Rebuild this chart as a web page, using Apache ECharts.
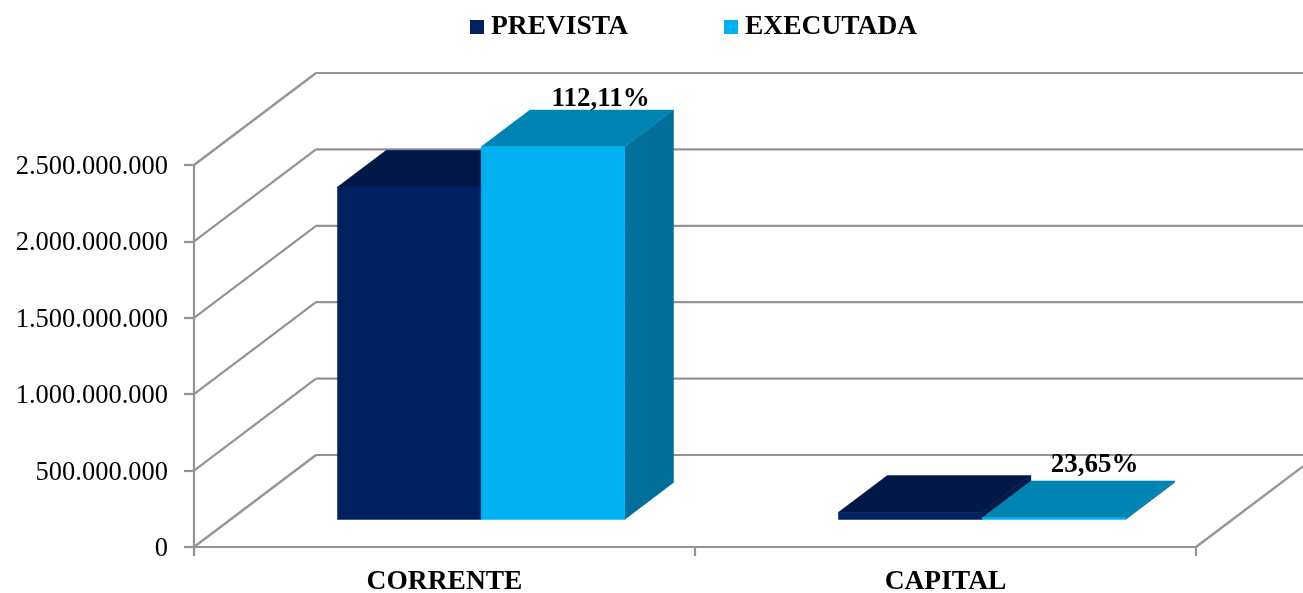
<!DOCTYPE html>
<html>
<head>
<meta charset="utf-8">
<style>html,body{margin:0;padding:0;background:#fff}#c{width:1303px;height:593px}</style>
<script src="https://cdn.jsdelivr.net/npm/echarts@6/dist/echarts.min.js"></script>
</head>
<body>
<div id="c"></div>
<script>
const categories = ['CORRENTE', 'CAPITAL'];
const prevista = [2175000000, 46000000];
const executada = [2438000000, 10900000];
const percentLabels = ['112,11%', '23,65%'];
const yTicks = [0, 500000000, 1000000000, 1500000000, 2000000000, 2500000000];

const FONT = '"Liberation Serif", serif';
const GREY = '#939393';
const DX = 122, DY = 92;            // projected depth of the floor
const NEAR = 0.3, FAR = 0.7;        // bar depth as share of the floor
const BAR = 0.2867;                 // bar width as share of the category band
const LABEL_SHIFT = [[-1, -11], [-8, -16]];

const fmt = v => String(v).replace(/\B(?=(\d{3})+(?!\d))/g, '.');

function poly(points, fill) {
  return { type: 'polygon', silent: true, shape: { points }, style: { fill, stroke: fill, lineWidth: 0.5 } };
}

function barRenderer(offsetIndex, front, top, side, withLabel) {
  return function (params, api) {
    const i = api.value(0), v = api.value(1);
    const band = api.size([1, 0])[0];
    const c = api.coord([i, v]), b = api.coord([i, 0]);
    const w = band * BAR;
    const x0 = c[0] + DX * NEAR + (offsetIndex - 1) * w;
    const x1 = x0 + w;
    const yT = c[1] - DY * NEAR, yB = b[1] - DY * NEAR;
    const dx = DX * (FAR - NEAR), dy = DY * (FAR - NEAR);
    const children = [
      poly([[x1, yT], [x1 + dx, yT - dy], [x1 + dx, yB - dy], [x1, yB]], side),
      poly([[x0, yT], [x0 + dx, yT - dy], [x1 + dx, yT - dy], [x1, yT]], top),
      poly([[x0, yT], [x1, yT], [x1, yB], [x0, yB]], front)
    ];
    if (withLabel) {
      children.push({
        type: 'text', silent: true, z2: 10,
        style: {
          text: percentLabels[i],
          x: (x0 + x1) / 2 + dx + LABEL_SHIFT[i][0],
          y: yT - dy + LABEL_SHIFT[i][1],
          align: 'center', verticalAlign: 'middle',
          font: 'bold 27px ' + FONT, fill: '#000'
        }
      });
    }
    return { type: 'group', children };
  };
}

function wallRenderer(params, api) {
  const cs = params.coordSys;
  const v = api.value(0);
  const y = api.coord([0, v])[1];
  const left = cs.x, right = cs.x + cs.width;
  const line = (x1, y1, x2, y2) => ({
    type: 'line', silent: true,
    shape: { x1, y1, x2, y2 },
    style: { stroke: GREY, lineWidth: 2.2, fill: null }
  });
  const children = [
    line(left, y, left + DX, y - DY),
    line(left + DX, y - DY, right + DX, y - DY)
  ];
  if (v === 0) children.push(line(right, y, right + DX, y - DY));
  return { type: 'group', children };
}

const chart = echarts.init(document.getElementById('c'), null, { renderer: 'canvas' });
chart.setOption({
  animation: false,
  backgroundColor: '#fff',
  legend: {
    data: ['PREVISTA', 'EXECUTADA'],
    left: 465, top: 8,
    icon: 'rect',
    itemWidth: 14, itemHeight: 14, itemGap: 96,
    selectedMode: false,
    textStyle: { fontFamily: FONT, fontWeight: 'bold', fontSize: 27.5, color: '#000', padding: [0, 0, 0, 2] }
  },
  grid: { left: 194, right: 107, top: 165, bottom: 46, containLabel: false, outerBoundsMode: 'none' },
  xAxis: {
    type: 'category',
    data: categories,
    axisLine: { lineStyle: { color: GREY, width: 2.2 } },
    axisTick: { show: true, length: 9, lineStyle: { color: GREY, width: 2.2 } },
    axisLabel: { fontFamily: FONT, fontWeight: 'bold', fontSize: 27.5, color: '#000', margin: 21 }
  },
  yAxis: {
    type: 'value', min: 0, max: 2500000000, interval: 500000000,
    splitLine: { show: false },
    axisLine: { show: true, lineStyle: { color: GREY, width: 2.2 } },
    axisTick: { show: true, length: 10, lineStyle: { color: GREY, width: 2.2 } },
    axisLabel: { fontFamily: FONT, fontSize: 26.5, color: '#000', margin: 26, verticalAlign: 'top', lineHeight: 4, formatter: fmt }
  },
  series: [
    {
      name: 'walls', type: 'custom', coordinateSystem: 'cartesian2d', clip: false, z: 1,
      encode: { y: 0 }, data: yTicks.map(v => [v]), renderItem: wallRenderer
    },
    {
      name: 'PREVISTA', type: 'custom', coordinateSystem: 'cartesian2d', clip: false, z: 3,
      itemStyle: { color: '#002060' }, encode: { x: 0, y: 1 },
      data: prevista.map((v, i) => [i, v]),
      renderItem: barRenderer(0, '#002060', '#001848', '#001848', false)
    },
    {
      name: 'EXECUTADA', type: 'custom', coordinateSystem: 'cartesian2d', clip: false, z: 4,
      itemStyle: { color: '#00b0f0' }, encode: { x: 0, y: 1 },
      data: executada.map((v, i) => [i, v]),
      renderItem: barRenderer(1, '#00b0f0', '#0084b4', '#00709a', true)
    }
  ]
});
</script>
</body>
</html>
